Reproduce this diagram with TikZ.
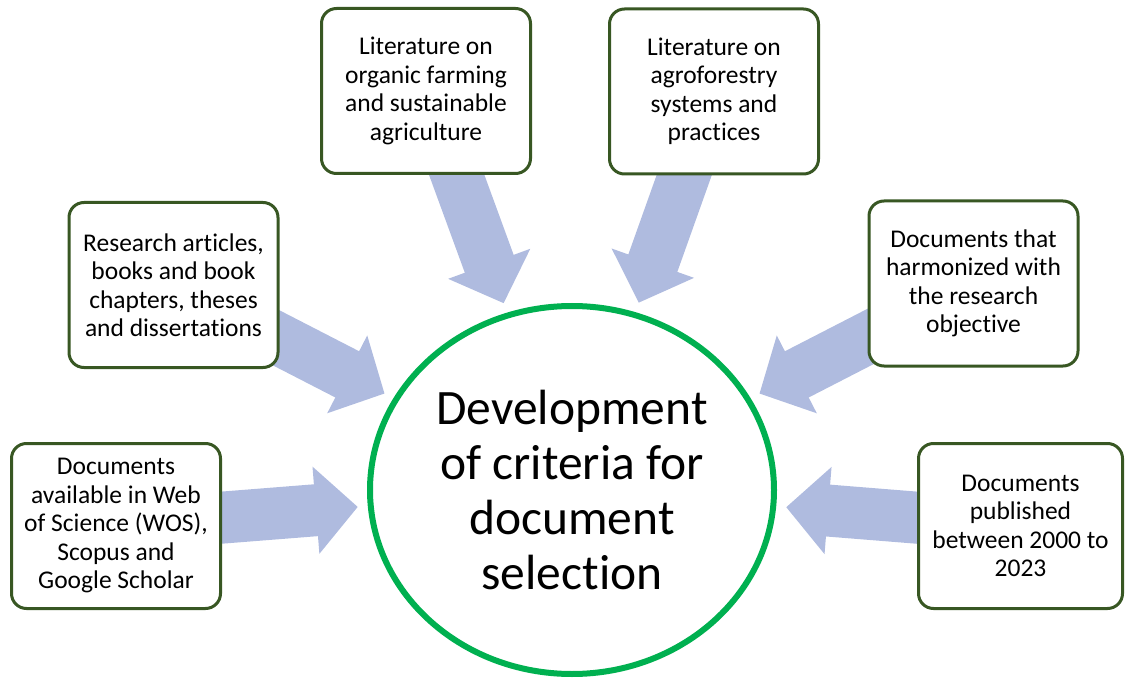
\documentclass[tikz,border=0pt]{standalone}
\usepackage{fontspec}
\setmainfont[Ligatures=NoCommon]{Carlito}
\usetikzlibrary{shapes.geometric,arrows.meta,backgrounds}

\definecolor{boxgreen}{RGB}{56,87,35}
\definecolor{ringgreen}{RGB}{0,176,80}
\definecolor{arrowblue}{RGB}{175,187,223}

\tikzset{
  critbox/.style={rectangle, rounded corners=15pt, draw=boxgreen, line width=3pt,
    fill=white, minimum width=209pt, minimum height=165pt, inner sep=0pt,
    align=center, font=\fontsize{25.5pt}{28.5pt}\selectfont},
  ring/.style={ellipse, draw=ringgreen, line width=6pt, fill=white,
    minimum width=404pt, minimum height=368pt, inner sep=0pt,
    align=center, font=\fontsize{49.5pt}{55pt}\selectfont},
  fatarrow/.style={draw=arrowblue, line width=52pt,
    -{Triangle[length=42pt,width=85pt]}, shorten >=10pt}
}

\begin{document}
\begin{tikzpicture}[x=1pt,y=-1pt]
  \useasboundingbox (0,0) rectangle (1125,679);

  % central goal
  \node[ring] (goal) at (572,490) {Development\\of criteria for\\document\\selection};

  % selection criteria around it
  \node[critbox] (sources) at (116,526)
    {Documents\\available in Web\\of Science (WOS),\\Scopus and\\Google Scholar};
  \node[critbox] (types) at (173.5,285)
    {Research articles,\\books and book\\chapters, theses\\and dissertations};
  \node[critbox] (organic) at (426,91)
    {Literature on\\organic farming\\and sustainable\\agriculture};
  \node[critbox] (agroforest) at (714,91.5)
    {Literature on\\agroforestry\\systems and\\practices};
  \node[critbox] (objective) at (973.5,283.5)
    {Documents that\\harmonized with\\the research\\objective};
  \node[critbox, minimum width=204pt] (period) at (1020.5,526)
    {Documents\\published\\between 2000 to\\2023};

  % block arrows pointing at the goal, behind the boxes
  \begin{scope}[on background layer]
    \foreach \src in {sources,types,organic,agroforest,objective,period}
      \draw[fatarrow] (\src.center) -- (goal);
  \end{scope}
\end{tikzpicture}
\end{document}
